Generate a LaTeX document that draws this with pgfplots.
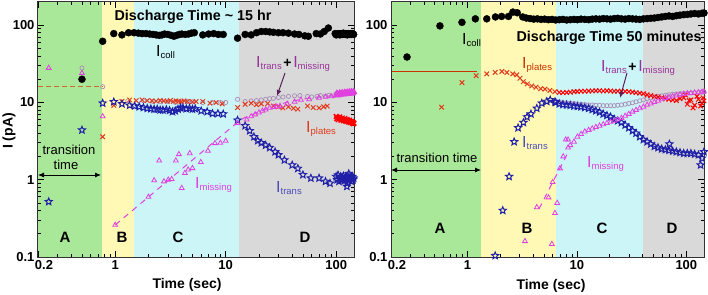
\documentclass[border=0pt]{standalone}
\usepackage{fontspec}
\setmainfont{Liberation Sans}
\usepackage{pgfplots}
\pgfplotsset{compat=1.18}
\usetikzlibrary{arrows.meta}
\definecolor{cA}{HTML}{AAE899}
\definecolor{cB}{HTML}{FFF9B5}
\definecolor{cC}{HTML}{CCF5F8}
\definecolor{cD}{HTML}{D9D9D9}
\definecolor{cRed}{HTML}{E23A1C}
\definecolor{cBlue}{HTML}{1F1FA8}
\definecolor{cMag}{HTML}{E040E0}
\definecolor{cSum}{HTML}{A88CB8}
\definecolor{cPur}{HTML}{993399}
\definecolor{cArr}{HTML}{5A1F5A}
\definecolor{cBrown}{HTML}{D2692E}
\definecolor{cLine}{HTML}{CC3300}
\pgfdeclareplotmark{ostar}{%
  \pgfpathmoveto{\pgfpointpolar{90}{\pgfplotmarksize}}%
  \pgfpathlineto{\pgfpointpolar{126}{0.45\pgfplotmarksize}}%
  \pgfpathlineto{\pgfpointpolar{162}{\pgfplotmarksize}}%
  \pgfpathlineto{\pgfpointpolar{198}{0.45\pgfplotmarksize}}%
  \pgfpathlineto{\pgfpointpolar{234}{\pgfplotmarksize}}%
  \pgfpathlineto{\pgfpointpolar{270}{0.45\pgfplotmarksize}}%
  \pgfpathlineto{\pgfpointpolar{306}{\pgfplotmarksize}}%
  \pgfpathlineto{\pgfpointpolar{342}{0.45\pgfplotmarksize}}%
  \pgfpathlineto{\pgfpointpolar{18}{\pgfplotmarksize}}%
  \pgfpathlineto{\pgfpointpolar{54}{0.45\pgfplotmarksize}}%
  \pgfpathclose\pgfusepathqstroke}
\newcommand{\Isub}[1]{{\fontsize{16}{16}\selectfont I}\raisebox{-1.5pt}{\fontsize{9.5}{9.5}\selectfont #1}}
\pgfplotsset{
  pcoll/.style={only marks, mark=*, mark size=3.5pt, black},
  psum/.style={only marks, mark=o, mark size=2.1pt, cSum, mark options={line width=0.7pt}},
  pplat/.style={only marks, mark=x, mark size=3.2pt, cRed, mark options={line width=1pt}},
  ptrans/.style={only marks, mark=ostar, mark size=3.7pt, cBlue, mark options={line width=1pt}},
  pmiss/.style={only marks, mark=triangle, mark size=2.8pt, cMag, mark options={line width=0.8pt}},
}
\begin{document}
\begin{tikzpicture}[x=1pt,y=1pt]
\useasboundingbox (0pt,0pt) rectangle (708pt,294pt);
% ================= LEFT =================
\begin{axis}[at={(38pt,37pt)}, width=316pt,
    anchor=south west, scale only axis, height=255pt,
    xmode=log, ymode=log, xmin=0.2, xmax=145, ymin=0.1, ymax=200,
    xtick={0.2,1,10,100}, xticklabels={\hspace*{12pt}0.2,1,10,100},
    ytick={0.1,1,10,100}, yticklabels={0.1,1,10,100},
    minor xtick={0.3,0.4,0.5,0.6,0.7,0.8,0.9,2,3,4,5,6,7,8,9,20,30,40,50,60,70,80,90},
    minor ytick={0.2,0.3,0.4,0.5,0.6,0.7,0.8,0.9,2,3,4,5,6,7,8,9,20,30,40,50,60,70,80,90},
    tick label style={font=\fontsize{13}{13}\selectfont\bfseries},
    major tick length=6pt, minor tick length=3pt,
    tick style={line width=0.8pt, black},
    axis line style={line width=1pt, black!80},
    axis on top, clip=true]
\fill[cA] (axis cs:0.2,0.1) rectangle (axis cs:0.76,200);
\fill[cB] (axis cs:0.76,0.1) rectangle (axis cs:1.49,200);
\fill[cC] (axis cs:1.49,0.1) rectangle (axis cs:13.2,200);
\fill[cD] (axis cs:13.2,0.1) rectangle (axis cs:145,200);
\addplot[cBrown, line width=1pt, dash pattern=on 5pt off 3pt] coordinates {(0.2,16.3) (0.77,16.3)};
\addplot[cMag, line width=1pt, dash pattern=on 6pt off 5pt, smooth] coordinates {(1,0.26) (5,1.8) (13,5.6) (16,6.6) (20,7.6) (25,8.6) (30,9.4) (40,10.4) (60,11.5) (100,12.4) (145,13)};
% sum (open circles)
\addplot[psum] coordinates {(0.5,28) (0.77,16) (1.3,10.5) (1.8,10.5) (2.2,10.3) (2.6,10.2) (3,10.3) (3.5,10) (4,10.2) (4.5,10.3) (5,10.2) (6.2,10) (7.5,10) (9,10) (10,10) (12.8,11) (15,10.3) (17,10.5) (19,10.6) (21,10.8) (23,11) (25,11.2) (27,11.3) (30,11.6) (33,11.8) (37,12) (42,12.2) (47,12.3) (55,12) (60,11.8) (67,12) (72,12.3) (80,12.1) (86,12.4) (95,12.2) (100,13) (105,12.8) (110,13.1) (115,13) (120,13.2) (125,13.1) (130,13.3) (135,13.2) (140,13.4) (145,13.3)};
% plates
\addplot[pplat] coordinates {(0.77,3.6) (0.97,9.2) (1.15,10.3) (1.35,10.8) (1.55,10.6) (1.75,10.8) (1.95,10.6) (2.15,10.5) (2.35,10.4) (2.55,10.6) (2.75,10.5) (2.95,10.4) (3.15,10.6) (3.35,10.3) (3.55,10.5) (3.75,10.4) (3.95,10.2) (4.2,10.5) (4.5,10.3) (5.0,10.2) (5.4,10.3) (6.2,10.3) (7.2,9.8) (8.2,10.0) (9.3,9.6) (12.8,8.6) (15,9.5) (17,9.8) (19,9.4) (21,9.6) (24,9.7) (27,9.0) (30,8.8) (33,8.5) (37,8.8) (41,8.4) (45,8.2) (55,9.0) (62,8.6) (70,8.5) (77,8.8) (83,9.0)};
\addplot[pplat, mark size=3.3pt, red, mark options={line width=1.4pt}] coordinates {(100,6.6) (101.5,6.2) (103,6.4) (104.5,6.0) (106,6.3) (107.5,6.5) (109,6.2) (110.5,5.9) (112,6.1) (113.5,6.3) (115,6.0) (116.5,5.8) (118,6.0) (119.5,6.2) (121,5.9) (122.5,5.7) (124,5.8) (125.5,6.0) (127,5.8) (128.5,5.6) (130,5.7) (131.5,5.9) (133,5.6) (134.5,5.5) (136,5.6) (137.5,5.7) (139,5.5) (140.5,5.4) (142,5.5) (143.5,5.3) (145,5.4)};
% trans
\addplot[ptrans] coordinates {(0.25,0.52) (0.5,4.4) (0.77,9.8) (0.97,10.2) (1.15,9.6) (1.35,9.2) (1.5,9.0) (1.65,8.8) (1.8,8.6) (1.95,8.4) (2.1,8.3) (2.25,8.2) (2.4,8.2) (2.55,8.0) (2.7,8.0) (2.9,8.1) (3.1,7.9) (3.3,7.6) (3.5,7.8) (3.7,8.2) (3.9,8.5) (4.1,8.5) (4.4,8.3) (4.7,8.4) (5.0,8.2) (5.3,8.3) (6.0,7.8) (6.8,7.6) (7.6,7.2) (8.5,7.2) (9.5,7.1) (12.8,5.9) (15,5.0) (16.5,4.3) (18,3.6) (19.5,3.2) (21,3.0) (23,2.8) (25,2.6) (28,2.3) (30,2.1) (34,1.8) (40,1.55) (45,1.4) (50,1.16) (59,1.05) (70,1.05) (80,0.95) (88,0.9) (100,1.1) (102,1.0) (104,1.15) (106,0.95) (108,1.05) (110,1.1) (112,1.0) (114,1.05) (116,1.12) (118,1.0) (120,0.98) (122,1.08) (124,1.05) (125,0.82) (126,0.9) (128,1.1) (130,1.2) (132,1.0) (134,1.1) (136,1.05) (138,0.95) (140,1.1) (142,1.0) (144,1.05)};
% missing
\addplot[pmiss] coordinates {(0.25,28) (0.5,24) (0.77,6.6) (1.0,0.26) (2.0,0.60) (2.25,0.98) (2.5,1.77) (2.76,0.95) (3.02,1.0) (3.24,1.02) (3.54,1.77) (3.77,2.14) (4.0,0.78) (4.27,1.22) (4.57,1.35) (4.73,2.2) (5.0,1.41) (5.95,1.69) (6.9,2.37) (8.0,2.97) (8.95,3.0) (10.0,3.18) (12.8,5.4) (15.5,6.0) (17,6.6) (18.5,7.0) (20,7.4) (21.5,7.8) (23,8.1) (25,8.5) (27,8.7) (29,8.8) (31,9.0) (36,9.6) (42,10.2) (48,10.8) (57,11) (70,11.5) (80,11.8) (90,12)};
\addplot[pmiss, mark options={line width=1.2pt}] coordinates {(100,12.5) (101.5,13.2) (103,12.8) (104.5,12.4) (106,12.7) (107.5,13.3) (109,13) (110.5,12.6) (112,12.9) (113.5,13.4) (115,13.1) (116.5,12.7) (118,13) (119.5,13.5) (121,13.2) (122.5,12.8) (124,13.1) (125.5,13.6) (127,13.3) (128.5,12.9) (130,13.2) (131.5,13.7) (133,13.4) (134.5,13) (136,13.3) (137.5,13.8) (139,13.5) (140.5,13.1) (142,13.4) (143.5,13.8) (145,13.6)};
% coll
\addplot[pcoll] coordinates {(0.5,20) (0.77,62) (0.97,78) (1.15,75) (1.32,80) (1.48,80) (1.62,79) (1.75,78) (1.9,78) (2.05,77) (2.2,76) (2.35,75) (2.5,74) (2.65,75) (2.8,77) (3.0,76) (3.2,74) (3.4,72) (3.6,74) (3.8,76) (4.0,77) (4.3,76) (4.6,77) (4.9,79) (5.2,80) (6.2,75) (7.0,77) (7.8,78) (8.6,76) (9.5,76) (12.8,68) (15,76) (17,75) (19,80) (21,83) (23,83) (25,82) (27,81) (30,80) (33,80) (37,79) (42,77) (46,76) (52,73) (56,72) (66,78) (72,77) (78,83) (85,92) (98,78) (100,75) (102,76) (104,78) (106,77) (108,75) (110,78) (112,77) (114,76) (116,79) (118,77) (120,76) (122,78) (124,77) (126,75) (128,78) (130,77) (132,76) (134,78) (136,77) (138,76) (140,78) (142,77) (144,76)};
\end{axis}
% ================= RIGHT =================
\begin{axis}[at={(391pt,37pt)}, width=313pt,
    anchor=south west, scale only axis, height=255pt,
    xmode=log, ymode=log, xmin=0.2, xmax=145, ymin=0.1, ymax=200,
    xtick={0.2,1,10,100}, xticklabels={\hspace*{12pt}0.2,1,10,100},
    ytick={0.1,1,10,100}, yticklabels={0.1,1,10,100},
    minor xtick={0.3,0.4,0.5,0.6,0.7,0.8,0.9,2,3,4,5,6,7,8,9,20,30,40,50,60,70,80,90},
    minor ytick={0.2,0.3,0.4,0.5,0.6,0.7,0.8,0.9,2,3,4,5,6,7,8,9,20,30,40,50,60,70,80,90},
    tick label style={font=\fontsize{13}{13}\selectfont\bfseries},
    major tick length=6pt, minor tick length=3pt,
    tick style={line width=0.8pt, black},
    axis line style={line width=1pt, black!80},
    axis on top, clip=true]
\fill[cA] (axis cs:0.2,0.1) rectangle (axis cs:1.33,200);
\fill[cB] (axis cs:1.33,0.1) rectangle (axis cs:6.4,200);
\fill[cC] (axis cs:6.4,0.1) rectangle (axis cs:40.2,200);
\fill[cD] (axis cs:40.2,0.1) rectangle (axis cs:145,200);
\addplot[cLine, line width=1.2pt] coordinates {(0.2,25.2) (1.22,25.2)};
\addplot[cMag, line width=1pt, dash pattern=on 6pt off 5pt] coordinates {(4.5,0.42) (8.5,2.4)};
% sum
\addplot[psum] coordinates {(6.39,10.5) (6.9,10.2) (7.45,10) (8.05,9.9) (8.7,9.8) (9.4,9.7) (10.1,9.6) (10.9,9.5) (11.8,9.4) (12.8,9.3) (13.8,9.3) (14.9,9.2) (16.1,9.2) (17.4,9.1) (18.8,9.1) (20.3,9.1) (21.9,9.1) (23.6,9.2) (25.5,9.3) (27.6,9.5) (29.8,9.7) (32.2,9.9) (34.7,10.2) (37.5,10.5) (40.5,10.8) (43.8,11.2) (47.3,11.5) (51,11.8) (55.1,12) (59.5,12.2) (64.3,12.4) (69.4,12.6) (75,12.8) (81,12.9) (87.5,13) (94.5,13.1) (102,13.2) (110,13.3) (119,13.4) (129,13.5) (139,13.6) (145,13.7)};
% plates
\addplot[pplat] coordinates {(0.58,8.7) (0.89,18.1) (1.2,22.2) (1.5,23.5) (1.79,24.5) (2.06,25.2) (2.29,24.5) (2.59,23.5) (2.82,22.8) (3.02,20.6) (3.24,18.6) (3.52,17.4) (3.86,16.4) (4.22,15.8) (4.66,15.1) (5.11,14.9) (5.66,14.3) (6.3,13.8)};
\addplot[pplat, red] coordinates {(6.9,13.5) (7.45,13.4) (8.05,13.5) (8.7,13.6) (9.4,13.8) (10.1,13.9) (10.9,14) (11.8,14) (12.8,14.1) (13.8,14.1) (14.9,14.2) (16.1,14.2) (17.4,14.1) (18.8,14.2) (20.3,14.1) (21.9,14) (23.6,14) (25.5,14) (27.6,13.9) (29.8,13.8) (32.2,13.6) (34.7,13.4) (37.5,13.2) (40.5,13) (43.8,12.6) (47.3,12.3) (51,12) (55.1,11.8) (59.5,11.5) (64.3,11.2) (69.4,11) (75,10.8) (81,10.6) (87.5,11.2) (94.5,11.5) (98,12.5) (102,9.5) (106,10.6) (110,10.8) (115,8.5) (119,9.2) (125,12) (129,11) (135,9) (139,9.8) (142,11.5) (145,10.5)};
% trans
\addplot[ptrans] coordinates {(1.79,0.104) (2.1,0.4) (2.4,1.1) (2.67,3.1) (2.9,4.7) (3.24,5.5) (3.5,6.5) (3.8,7.1) (4.3,8.4) (4.77,9.8) (5.3,10.3) (5.7,10.8) (6.3,10.2) (6.39,10) (6.9,9.6) (7.45,9.4) (8.05,9.3) (8.7,9.2) (9.4,9.0) (10.1,8.9) (10.9,8.8) (11.8,8.6) (12.8,8.4) (13.8,8.1) (14.9,7.8) (16.1,7.5) (17.4,7.1) (18.8,6.8) (20.3,6.5) (21.9,6.1) (23.6,5.8) (25.5,5.5) (27.6,5.1) (29.8,4.7) (32.2,4.3) (34.7,4.0) (37.5,3.6) (40.5,3.3) (43.8,3.1) (47.3,2.9) (51,2.7) (55.1,2.6) (59.5,2.5) (64.3,2.45) (69.4,2.4) (70,2.9) (75,2.35) (81,2.3) (87.5,2.25) (94.5,2.2) (102,2.2) (110,2.2) (119,2.15) (129,2.1) (135,1.55) (139,1.9) (145,2.3)};
% missing
\addplot[pmiss] coordinates {(3.35,0.16) (4.3,0.44) (5.5,0.59) (5.9,0.147) (6.3,0.37) (6.6,0.5) (6.0,0.93) (7.0,1.4) (7.5,2.0) (7.9,3.3) (8.3,3.3) (8.3,2.6) (8.7,2.8) (9.4,3.1) (10.1,3.6) (10.9,3.9) (11.8,4.2) (12.8,4.4) (13.8,4.6) (14.9,4.8) (16.1,5.0) (17.4,5.2) (18.8,5.4) (20.3,5.6) (21.9,5.8) (23.6,6.0) (25.5,6.3) (27.6,6.7) (29.8,7.1) (32.2,7.6) (34.7,8.0) (37.5,8.4) (40.5,8.8) (43.8,9.3) (47.3,9.7) (51,10.1) (55.1,10.5) (59.5,11) (64.3,11.4) (69.4,11.7) (75,12) (81,12.3) (87.5,12.6) (94.5,12.9) (102,13.1) (110,13.2) (119,13.4) (129,13.5) (139,13.7) (145,13.8)};
% coll
\addplot[pcoll] coordinates {(0.28,38.8) (0.56,98) (0.89,109) (1.18,121) (1.5,121) (1.8,128) (2.05,130) (2.37,130) (2.6,148) (2.85,145) (3.2,128) (3.45,124) (3.73,122) (4.03,120) (4.35,121) (4.7,119) (5.07,120) (5.48,118) (5.92,119) (6.39,117) (6.9,118) (7.45,119) (8.05,117) (8.7,118) (9.4,119) (10.1,118) (10.9,120) (11.8,119) (12.8,118) (13.8,120) (14.9,121) (16.1,120) (17.4,122) (18.8,121) (20.3,120) (21.9,122) (23.6,123) (25.5,121) (27.6,120) (29.8,122) (32.2,121) (34.7,120) (37.5,119) (40.5,121) (43.8,122) (47.3,123) (51,124) (55.1,126) (59.5,128) (64.3,130) (69.4,132) (75,130) (81,133) (87.5,135) (94.5,137) (102,138) (110,140) (119,142) (129,140) (139,143) (145,144)};
\end{axis}
% ================= ANNOTATIONS =================
\tikzset{lab/.style={anchor=base west, inner sep=0pt}}
% left
\node[font=\fontsize{14.3}{14.3}\selectfont\bfseries] at (193pt,277pt) {Discharge Time \textasciitilde{} 15 hr};
\node[lab] at (156pt,237pt) {\Isub{coll}};
\node[lab, text=cPur] at (256pt,226pt) {\Isub{trans}\,{\color{black}\fontsize{14}{14}\selectfont\bfseries +}\,\Isub{missing}};
\draw[-{Latex[length=6pt,width=5pt]}, cArr, line width=1pt] (285pt,221pt) -- (277pt,198pt);
\node[lab, text=cRed] at (306pt,161pt) {\Isub{plates}};
\node[lab, text=cMag] at (195pt,105pt) {\Isub{missing}};
\node[lab, text=cBlue!80!white] at (276pt,101pt) {\Isub{trans}};
\node[font=\fontsize{13}{13}\selectfont] at (69pt,144pt) {transition};
\node[font=\fontsize{13}{13}\selectfont] at (66pt,129pt) {time};
\draw[{Latex[length=6pt,width=5pt]}-{Latex[length=6pt,width=5pt]}, line width=0.9pt] (38pt,119pt) -- (101pt,119pt);
\foreach \l/\xx in {A/65,B/122,C/178,D/305} \node[font=\fontsize{15}{15}\selectfont\bfseries] at (\xx pt,57pt) {\l};
\node[font=\fontsize{14}{14}\selectfont\bfseries] at (187pt,9pt) {Time (sec)};
\node[font=\fontsize{14}{14}\selectfont\bfseries, rotate=90] at (9pt,163pt) {I (pA)};
% right
\node[font=\fontsize{14.3}{14.3}\selectfont\bfseries] at (609pt,256pt) {Discharge Time 50 minutes};
\node[lab] at (462pt,249pt) {\Isub{coll}};
\node[lab, text=cLine] at (522pt,225pt) {\Isub{plates}};
\node[lab, text=cPur] at (601pt,222pt) {\Isub{trans}\,{\color{black}\fontsize{14}{14}\selectfont\bfseries +}\,\Isub{missing}};
\draw[-{Latex[length=6pt,width=5pt]}, cArr, line width=1pt] (627pt,221pt) -- (620pt,196pt);
\node[lab, text=cBlue!80!white] at (522pt,146pt) {\Isub{trans}};
\node[lab, text=cMag] at (587pt,126pt) {\Isub{missing}};
\node[font=\fontsize{13}{13}\selectfont] at (437pt,136pt) {transition time};
\draw[{Latex[length=6pt,width=5pt]}-{Latex[length=6pt,width=5pt]}, line width=0.9pt] (391pt,124pt) -- (481pt,124pt);
\foreach \l/\xx in {A/440,B/527,C/602,D/672} \node[font=\fontsize{15}{15}\selectfont\bfseries] at (\xx pt,66pt) {\l};
\node[font=\fontsize{14}{14}\selectfont\bfseries] at (551pt,8pt) {Time (sec)};
\end{tikzpicture}
\end{document}
